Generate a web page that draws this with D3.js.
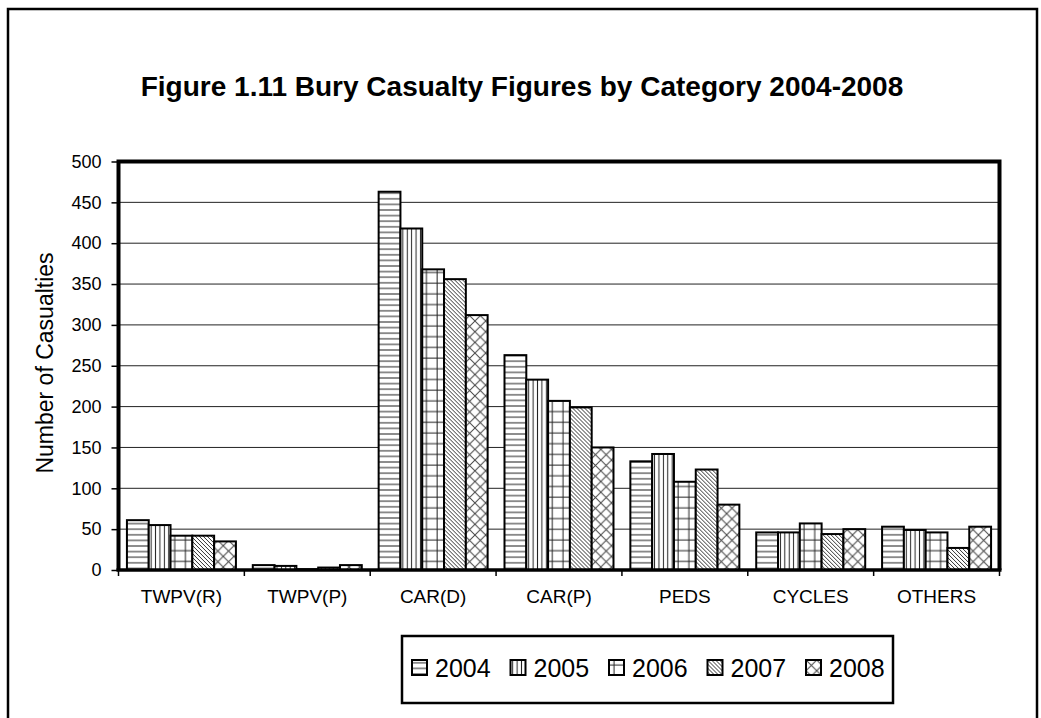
<!DOCTYPE html>
<html>
<head>
<meta charset="utf-8">
<script src="https://cdn.jsdelivr.net/npm/d3@7"></script>
<style>
  html, body { margin: 0; padding: 0; background: #fff; }
  svg { display: block; font-family: Arial, "Liberation Sans", sans-serif; }
</style>
</head>
<body>
<svg id="chart" width="1041" height="718"></svg>
<script>
const categories = ["TWPV(R)", "TWPV(P)", "CAR(D)", "CAR(P)", "PEDS", "CYCLES", "OTHERS"];
const years = ["2004", "2005", "2006", "2007", "2008"];
const values2004 = [61, 6, 463, 263, 133, 46, 53];
const values2005 = [55, 5, 418, 233, 142, 46, 49];
const values2006 = [42, 1, 368, 207, 108, 57, 46];
const values2007 = [42, 3, 356, 199, 123, 44, 27];
const values2008 = [35, 6, 312, 150, 80, 50, 53];
const yTicks = [0, 50, 100, 150, 200, 250, 300, 350, 400, 450, 500];
const titleText = "Figure 1.11 Bury Casualty Figures by Category 2004-2008";
const yTitle = "Number of Casualties";

const series = [values2004, values2005, values2006, values2007, values2008];

const svg = d3.select("#chart");
const defs = svg.append("defs");

// Patterns
function pat(id, w, h, draw) {
  const p = defs.append("pattern").attr("id", id).attr("patternUnits", "userSpaceOnUse")
    .attr("width", w).attr("height", h);
  p.append("rect").attr("width", w).attr("height", h).attr("fill", "#fff");
  draw(p);
}
const pc = "#222";
pat("p2004", 8, 5.6, p => p.append("line").attr("x1", 0).attr("x2", 8).attr("y1", 2.8).attr("y2", 2.8).attr("stroke", pc).attr("stroke-width", 1));
pat("p2005", 4.4, 8, p => p.append("line").attr("x1", 2.2).attr("x2", 2.2).attr("y1", 0).attr("y2", 8).attr("stroke", pc).attr("stroke-width", 1));
pat("p2006", 10.7, 10.7, p => {
  p.append("line").attr("x1", 5).attr("x2", 5).attr("y1", 0).attr("y2", 10.7).attr("stroke", pc).attr("stroke-width", 1);
  p.append("line").attr("x1", 0).attr("x2", 10.7).attr("y1", 5).attr("y2", 5).attr("stroke", pc).attr("stroke-width", 1);
});
pat("p2007", 4, 4, p => {
  p.append("path").attr("d", "M-1,-1L5,5M-1,3L1,5M3,-1L5,1").attr("stroke", "#333").attr("stroke-width", 1);
});
pat("p2008", 10.7, 10.7, p => {
  p.append("path").attr("d", "M0,0L10.7,10.7M10.7,0L0,10.7").attr("stroke", "#444").attr("stroke-width", 1);
});
const fills = years.map(y => "url(#p" + y + ")");

// Outer border
svg.append("rect").attr("x", 8).attr("y", 9).attr("width", 1029).attr("height", 740)
  .attr("fill", "none").attr("stroke", "#000").attr("stroke-width", 2.5);

// Title
svg.append("text").attr("x", 522).attr("y", 96).attr("text-anchor", "middle")
  .attr("font-size", 28).attr("font-weight", "bold").text(titleText);

const plotL = 118.5, plotR = 999.5, plotT = 161.5, plotB = 570;

const y = d3.scaleLinear().domain([0, 500]).range([plotB, plotT]);
const x0 = d3.scaleBand().domain(categories).range([plotL, plotR]).paddingInner(0.134).paddingOuter(0.067);
const x1 = d3.scaleBand().domain(years).range([0, x0.bandwidth()]).padding(0);

// Gridlines
svg.append("g").selectAll("line").data(yTicks.filter(t => t > 0 && t < 500)).join("line")
  .attr("x1", plotL).attr("x2", plotR).attr("y1", d => y(d)).attr("y2", d => y(d))
  .attr("stroke", "#222").attr("stroke-width", 1);

// Bars
const groups = svg.append("g").selectAll("g").data(categories).join("g")
  .attr("transform", c => `translate(${x0(c)},0)`);
groups.selectAll("rect").data((c, ci) => years.map((yr, si) => ({ yr, si, v: series[si][ci] }))).join("rect")
  .attr("x", d => x1(d.yr)).attr("width", x1.bandwidth())
  .attr("y", d => y(d.v)).attr("height", d => y(0) - y(d.v))
  .attr("fill", d => fills[d.si]).attr("stroke", "#000").attr("stroke-width", 2);

// Frame
svg.append("path").attr("d", `M${plotL},${plotB}V${plotT}H${plotR}V${plotB}`)
  .attr("fill", "none").attr("stroke", "#000").attr("stroke-width", 4);

// Y axis
const yAxis = svg.append("g").attr("transform", `translate(${plotL},0)`)
  .call(d3.axisLeft(y).tickValues(yTicks).tickSize(7).tickPadding(10));
yAxis.select(".domain").remove();
yAxis.selectAll(".tick line").attr("stroke", "#000").attr("stroke-width", 1.5);
yAxis.selectAll("text").attr("font-size", 18).attr("font-family", "Arial, 'Liberation Sans', sans-serif").attr("fill", "#000");

// X axis
const xAxis = svg.append("g").attr("transform", `translate(0,${plotB})`)
  .call(d3.axisBottom(x0).tickSize(0).tickPadding(20));
xAxis.select(".domain").remove();
xAxis.selectAll("text").attr("font-size", 19).attr("font-family", "Arial, 'Liberation Sans', sans-serif").attr("fill", "#000");
const step = x0.step();
svg.append("g").selectAll("line").data(d3.range(categories.length + 1)).join("line")
  .attr("x1", i => plotL + i * step).attr("x2", i => plotL + i * step)
  .attr("y1", plotB).attr("y2", plotB + 6).attr("stroke", "#000").attr("stroke-width", 1.5);
svg.append("line").attr("x1", plotL - 2).attr("x2", plotR + 2).attr("y1", plotB).attr("y2", plotB)
  .attr("stroke", "#000").attr("stroke-width", 3.5);

// Y title
svg.append("text").attr("transform", "translate(53,363) rotate(-90)").attr("text-anchor", "middle")
  .attr("font-size", 23).text(yTitle);

// Legend
svg.append("rect").attr("x", 402).attr("y", 636).attr("width", 491).attr("height", 67)
  .attr("fill", "#fff").attr("stroke", "#000").attr("stroke-width", 2.5);
const leg = svg.append("g").selectAll("g").data(years).join("g")
  .attr("transform", (d, i) => `translate(${412 + i * 98.5},660)`);
leg.append("rect").attr("width", 15).attr("height", 15)
  .attr("fill", (d, i) => fills[i]).attr("stroke", "#000").attr("stroke-width", 2);
leg.append("text").attr("x", 23).attr("y", 16.5).attr("font-size", 25).text(d => d);
</script>
</body>
</html>
